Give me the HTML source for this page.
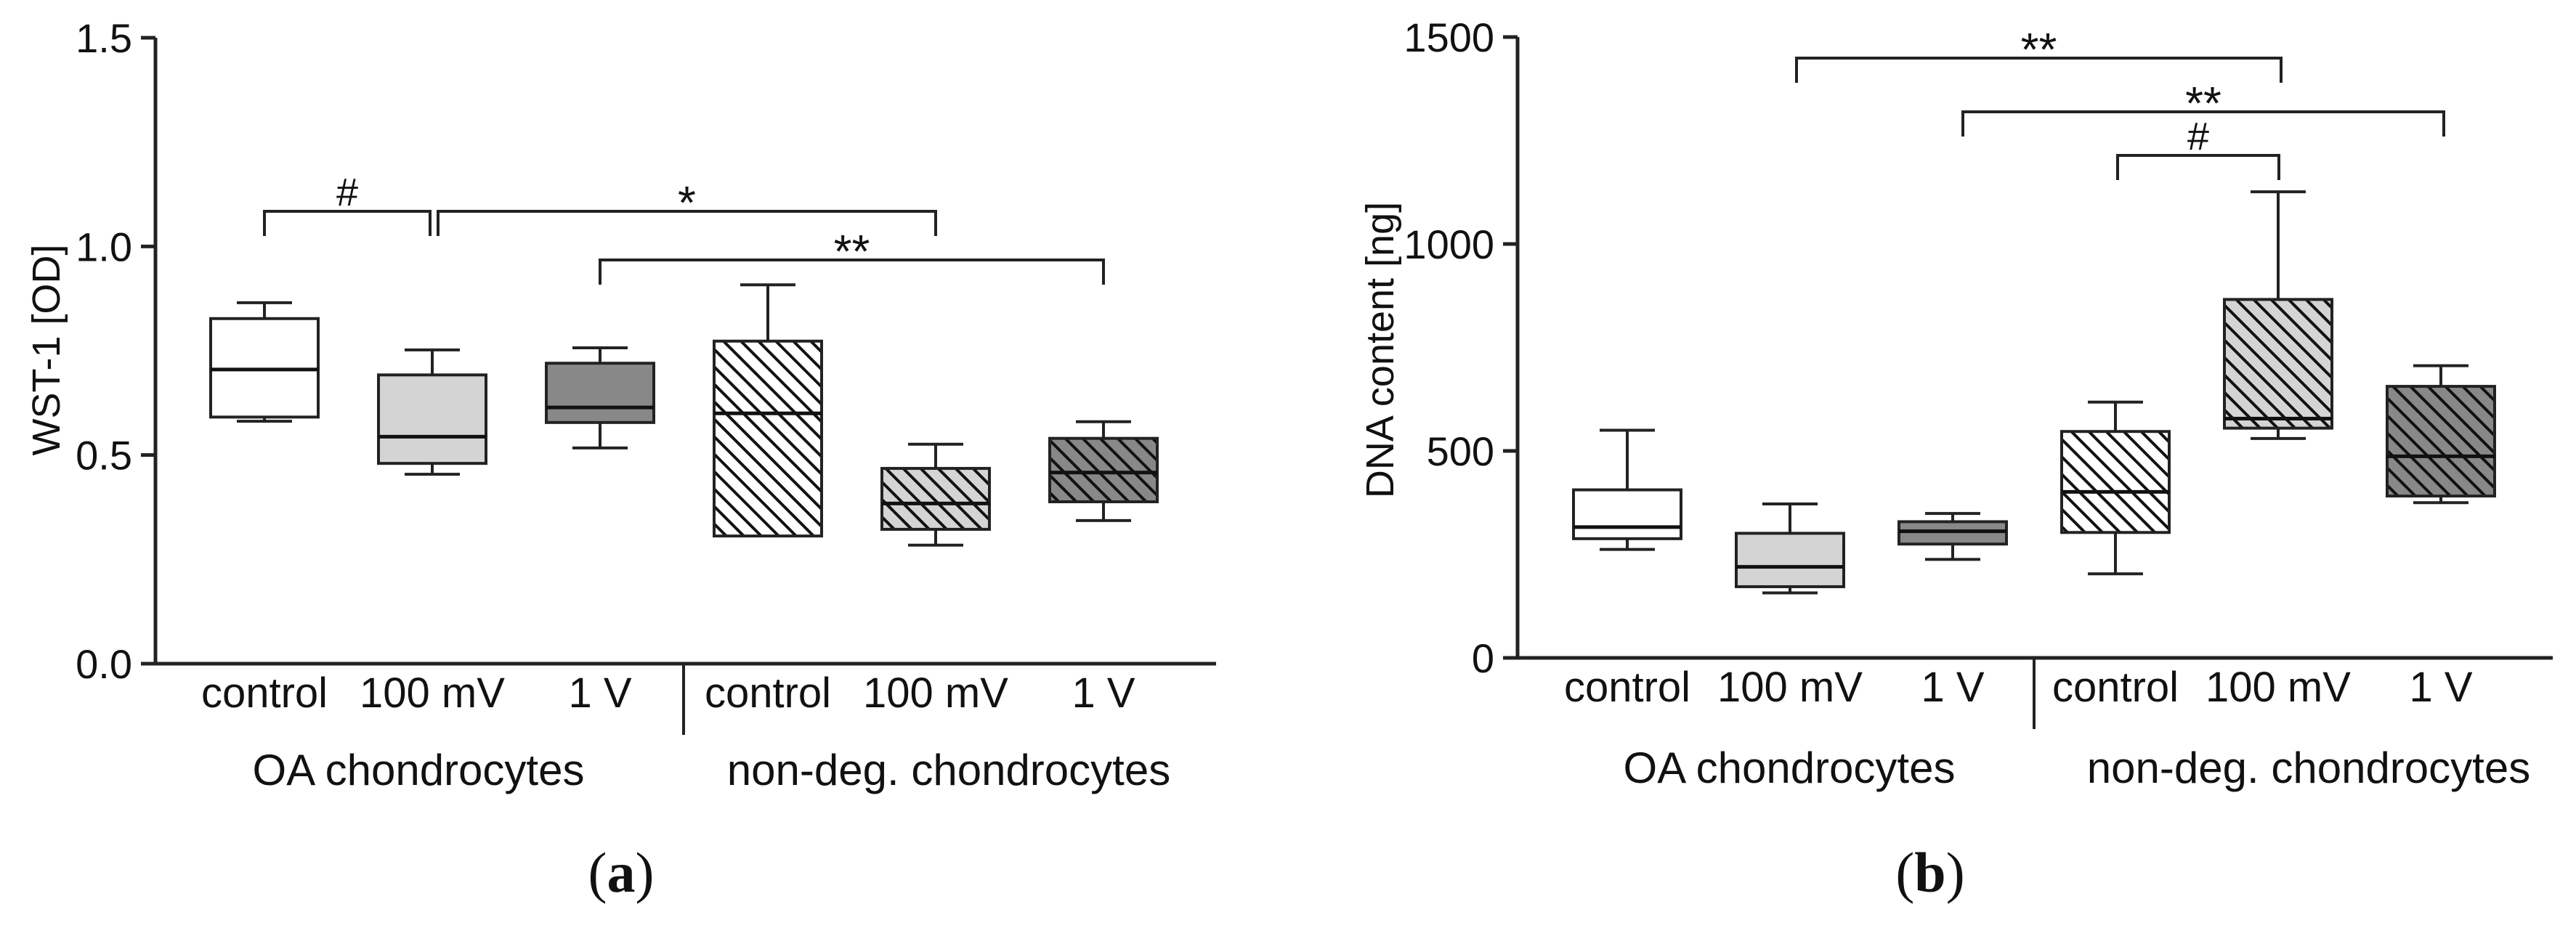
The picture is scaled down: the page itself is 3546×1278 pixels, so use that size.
<!DOCTYPE html>
<html><head><meta charset="utf-8"><style>
html,body{margin:0;padding:0;background:#fff;}
svg{display:block;}
text{font-family:"Liberation Sans",Arial,sans-serif;fill:#111;}
</style></head><body>
<svg id="fig" width="3546" height="1278" viewBox="0 0 3546 1278" xmlns="http://www.w3.org/2000/svg">
<defs>
<pattern id="hatchW" patternUnits="userSpaceOnUse" width="17" height="17" patternTransform="rotate(45)"><rect width="17" height="17" fill="#fff"/><rect x="0" y="0" width="17" height="4" fill="#111"/></pattern>
<pattern id="hatchL" patternUnits="userSpaceOnUse" width="17" height="17" patternTransform="rotate(45)"><rect width="17" height="17" fill="#d4d4d4"/><rect x="0" y="0" width="17" height="4" fill="#111"/></pattern>
<pattern id="hatchD" patternUnits="userSpaceOnUse" width="17" height="17" patternTransform="rotate(45)"><rect width="17" height="17" fill="#888"/><rect x="0" y="0" width="17" height="4" fill="#111"/></pattern>
</defs>
<g id="pa"></g>
<g id="pb"></g>
</svg>
<script>
const categories = ["control","100 mV","1 V","control","100 mV","1 V"];
const groups = ["OA chondrocytes","non-deg. chondrocytes"];
const fills = ["#fff","#d4d4d4","#888","url(#hatchW)","url(#hatchL)","url(#hatchD)"];
// Panel a: WST-1 [OD]
const aMin = [0.581,0.454,0.517,0.306,0.284,0.343];
const aQ1  = [0.591,0.480,0.578,0.306,0.322,0.388];
const aMed = [0.705,0.544,0.614,0.600,0.384,0.458];
const aQ3  = [0.827,0.692,0.720,0.773,0.468,0.540];
const aMax = [0.865,0.752,0.757,0.908,0.526,0.580];
const aTicks = [0,0.5,1.0,1.5];
const aTickLabels = ["0.0","0.5","1.0","1.5"];
// Panel b: DNA content [ng]
const bMin = [262,157,238,203,530,375];
const bQ1  = [288,172,275,303,555,391];
const bMed = [316,220,306,401,578,487];
const bQ3  = [406,301,329,547,866,656];
const bMax = [550,372,349,618,1126,706];
const bTicks = [0,500,1000,1500];
const bTickLabels = ["0","500","1000","1500"];
// significance brackets: [fromIndex, toIndex, label]
const aSig = [[0,1,"#"],[1,4,"*"],[2,5,"**"]];
const bSig = [[1,4,"**"],[2,5,"**"],[3,4,"#"]];

const NS="http://www.w3.org/2000/svg";
function mk(parent,tag,attrs,txt){const e=document.createElementNS(NS,tag);for(const k in attrs)e.setAttribute(k,attrs[k]);if(txt!==undefined)e.textContent=txt;parent.appendChild(e);return e;}

function drawPanel(cfg){
  const g=document.getElementById(cfg.id);
  const y=v=>cfg.y0-(v-cfg.vmin)/(cfg.vmax-cfg.vmin)*(cfg.y0-cfg.y1);
  const x=i=>cfg.xc0+i*cfg.dx;
  let ax=mk(g,'line',{x1:cfg.ax,y1:y(cfg.vmax),x2:cfg.ax,y2:cfg.y0,stroke:'#222','stroke-width':5});
  
  
  let xa=mk(g,'line',{x1:cfg.ax-20,y1:cfg.y0,x2:cfg.axEnd,y2:cfg.y0,stroke:'#222','stroke-width':5});
  
  
  cfg.ticks.forEach((t,i)=>{
    let tk=mk(g,'line',{x1:cfg.ax-20,y1:y(t),x2:cfg.ax,y2:y(t),stroke:'#222','stroke-width':5});
    
    
    let tl=mk(g,'text',{x:cfg.ax-32,y:y(t)+20,'text-anchor':'end','font-size':56},cfg.tickLabels[i]);
    
    
  });
  let yt=mk(g,'text',{x:0,y:0,'text-anchor':'middle','font-size':54,transform:`translate(${cfg.titleX},${cfg.titleY}) rotate(-90)`},cfg.title);
  
  
  let dv=mk(g,'line',{x1:cfg.div,y1:cfg.y0,x2:cfg.div,y2:cfg.y0+98,stroke:'#222','stroke-width':4});
  
  
  const hw=74, cw=38;
  for(let i=0;i<categories.length;i++){
    const bx=mk(g,'g',{});
    
    
    const c=x(i);
    mk(bx,'line',{x1:c,y1:y(cfg.max[i]),x2:c,y2:y(cfg.q3[i]),stroke:'#222','stroke-width':4});
    mk(bx,'line',{x1:c,y1:y(cfg.q1[i]),x2:c,y2:y(cfg.min[i]),stroke:'#222','stroke-width':4});
    mk(bx,'line',{x1:c-cw,y1:y(cfg.max[i]),x2:c+cw,y2:y(cfg.max[i]),stroke:'#222','stroke-width':4});
    if(cfg.min[i]<cfg.q1[i]) mk(bx,'line',{x1:c-cw,y1:y(cfg.min[i]),x2:c+cw,y2:y(cfg.min[i]),stroke:'#222','stroke-width':4});
    mk(bx,'rect',{x:c-hw,y:y(cfg.q3[i]),width:2*hw,height:y(cfg.q1[i])-y(cfg.q3[i]),fill:fills[i],stroke:'#222','stroke-width':4});
    mk(bx,'line',{x1:c-hw,y1:y(cfg.med[i]),x2:c+hw,y2:y(cfg.med[i]),stroke:'#111','stroke-width':5});
    const cl=mk(g,'text',{x:c,y:cfg.y0+60,'text-anchor':'middle','font-size':58},categories[i]);
    
    
  }
  groups.forEach((gr,k)=>{
    const gl=mk(g,'text',{x:cfg.groupX[k],y:cfg.groupY,'text-anchor':'middle','font-size':60},gr);
    
    
  });
  cfg.sig.forEach((s,k)=>{
    const bg=mk(g,'g',{});
    
    
    const ly=cfg.sigY[k], x1=x(s[0])+(cfg.sigOff[k][0]||0), x2=x(s[1])+(cfg.sigOff[k][1]||0);
    mk(bg,'path',{d:`M${x1} ${ly+34} V${ly} H${x2} V${ly+34}`,fill:'none',stroke:'#222','stroke-width':4});
    mk(bg,'text',{x:(x1+x2)/2,y:ly-(s[2]==='#'?8:-10),'text-anchor':'middle','font-size':s[2]==='#'?54:64},s[2]);
  });
  const pl=mk(g,'text',{x:cfg.labX,y:1228,'text-anchor':'middle','font-size':78,style:'font-family:"Liberation Serif",serif'});
  
  
  mk(pl,'tspan',{},'(');
  mk(pl,'tspan',{'font-weight':'bold'},cfg.lab);
  mk(pl,'tspan',{},')');
}

drawPanel({id:'pa',vmin:0,vmax:1.5,y0:914,y1:52,ax:214,axEnd:1674,xc0:364,dx:231,div:941,
  ticks:aTicks,tickLabels:aTickLabels,title:'WST-1 [OD]',titleX:82,titleY:482,
  min:aMin,q1:aQ1,med:aMed,q3:aQ3,max:aMax,groupX:[576,1306],groupY:1081,
  sig:aSig,sigY:[291,291,358],sigOff:[[0,-3],[8,0],[0,0]],labX:855,lab:'a'});
drawPanel({id:'pb',vmin:0,vmax:1500,y0:906,y1:51,ax:2089,axEnd:3514,xc0:2240,dx:224,div:2800,
  ticks:bTicks,tickLabels:bTickLabels,title:'DNA content [ng]',titleX:1918,titleY:482,
  min:bMin,q1:bQ1,med:bMed,q3:bQ3,max:bMax,groupX:[2463,3178],groupY:1078,
  sig:bSig,sigY:[80,154,214],sigOff:[[9,4],[14,4],[3,1]],labX:2657,lab:'b'});
</script>
</body></html>
